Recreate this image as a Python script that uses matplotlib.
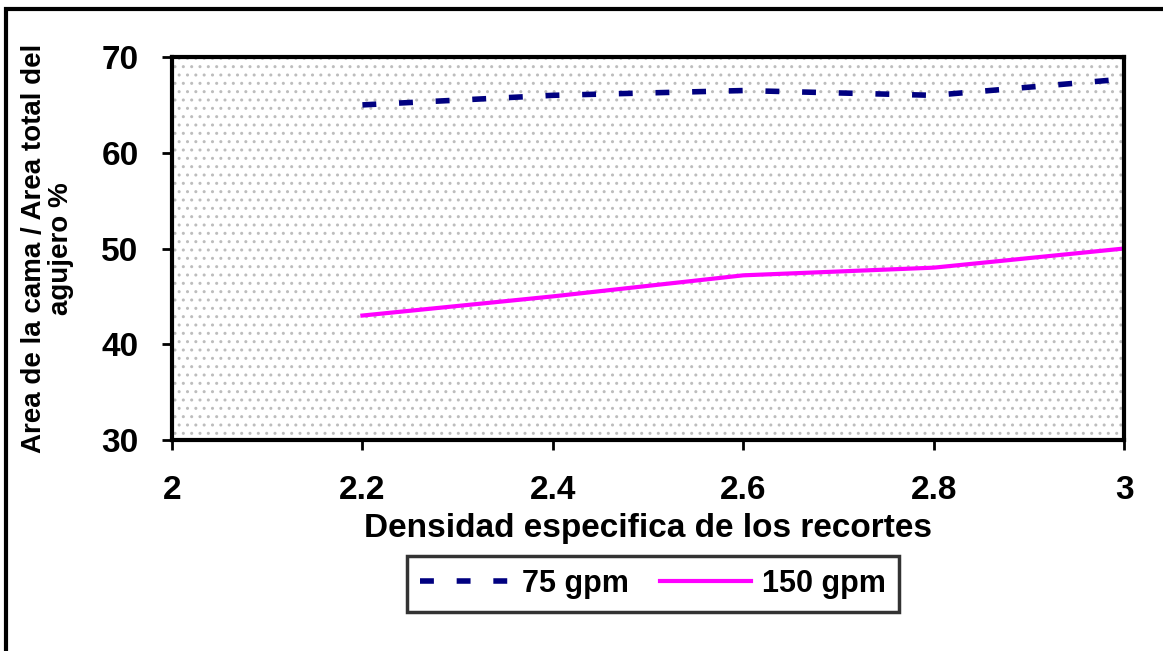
import matplotlib
matplotlib.use("Agg")
import matplotlib.pyplot as plt
from matplotlib.patches import Rectangle

# densidad especifica de los recortes
densidad = [2.2, 2.4, 2.6, 2.8, 3.0]
# area de la cama / area total del agujero (%)
area_75gpm = [65.0, 66.0, 66.5, 66.0, 67.7]
area_150gpm = [43.0, 45.0, 47.2, 48.0, 50.0]

x_ticks = [2, 2.2, 2.4, 2.6, 2.8, 3]
x_tick_labels = ["2", "2.2", "2.4", "2.6", "2.8", "3"]
y_ticks = [30, 40, 50, 60, 70]

plt.rcParams['font.family'] = ['Liberation Sans', 'DejaVu Sans']
plt.rcParams['hatch.linewidth'] = 1.0

fig = plt.figure(figsize=(11.63, 6.51), dpi=100)
ax = fig.add_axes([0.1479, 0.3241, 0.8186, 0.5883])

# stippled plot area
ax.add_patch(Rectangle((0, 0), 1, 1, transform=ax.transAxes, facecolor='white',
                       edgecolor='#bdbdbd', linewidth=0, hatch='..', zorder=0))

ax.plot(densidad, area_75gpm, color='#000080', linewidth=4,
        dashes=(2.5, 4.1), solid_capstyle='butt', label='75 gpm', zorder=3)
ax.plot(densidad, area_150gpm, color='#ff00ff', linewidth=3,
        label='150 gpm', zorder=3)

ax.set_xlim(2, 3)
ax.set_ylim(30, 70)
ax.set_xticks(x_ticks)
ax.set_xticklabels(x_tick_labels)
ax.set_yticks(y_ticks)
ax.tick_params(axis='both', direction='out', length=7, width=2,
               labelsize=24)
ax.tick_params(axis='x', pad=18)
ax.tick_params(axis='y', pad=17)
for lbl in ax.get_xticklabels() + ax.get_yticklabels():
    lbl.set_fontweight('bold')
for s in ax.spines.values():
    s.set_linewidth(3)
    s.set_zorder(4)

ax.set_xlabel('Densidad especifica de los recortes', fontsize=24,
              fontweight='bold', labelpad=5)
ax.set_ylabel('Area de la cama / Area total del\nagujero %', fontsize=20,
              fontweight='bold', labelpad=20, linespacing=1.05)

leg = ax.legend(loc='upper center', bbox_to_anchor=(0.505, -0.279), ncol=2,
                frameon=True, fancybox=False, handlelength=3.0,
                handletextpad=0.35, columnspacing=1.0, borderpad=0.42,
                borderaxespad=0.3,
                prop={'weight': 'bold', 'size': 22})
leg.get_frame().set_edgecolor('black')
leg.get_frame().set_linewidth(2.5)

# outer frame of the chart (left and top edges visible)
fig.add_artist(Rectangle((0.005, -0.05), 1.2, 1.036, transform=fig.transFigure,
                         fill=False, edgecolor='black', linewidth=3))

fig.savefig('out.png', dpi=100)
